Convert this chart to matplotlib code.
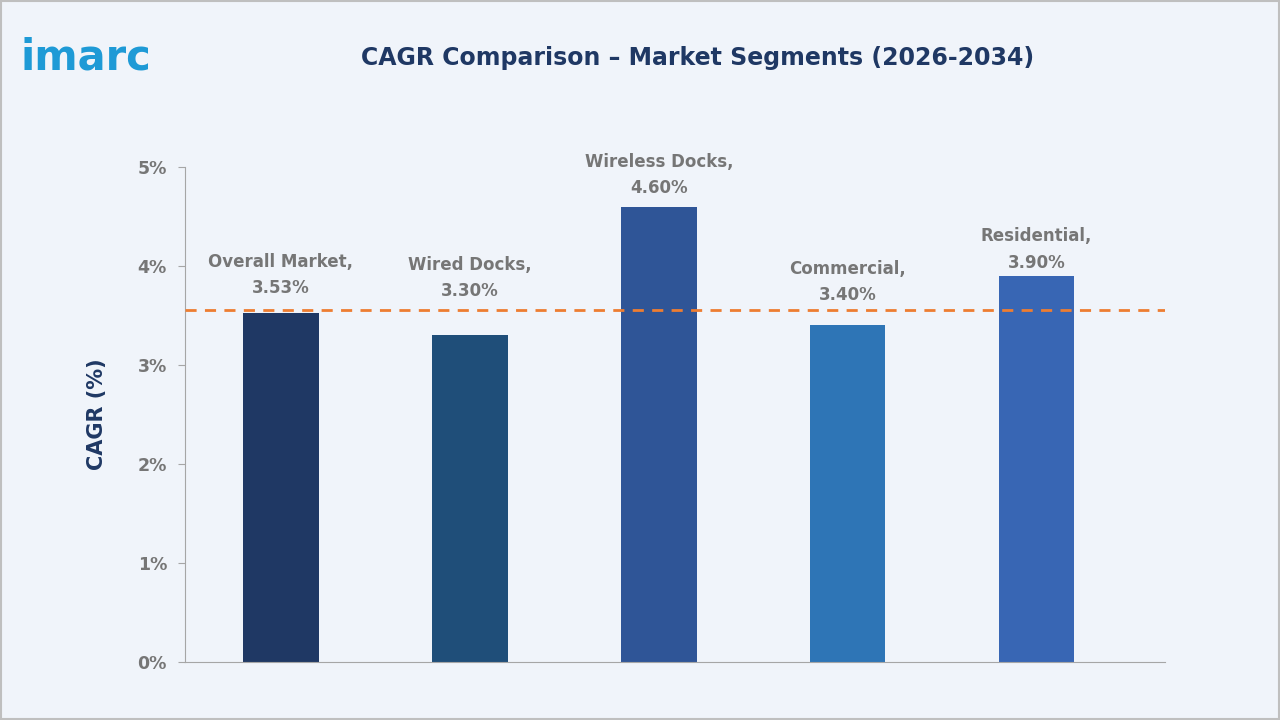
import matplotlib
matplotlib.use("Agg")
import matplotlib.pyplot as plt
from matplotlib.patches import Rectangle

categories = ["Overall Market", "Wired Docks", "Wireless Docks", "Commercial", "Residential"]
values = [3.53, 3.30, 4.60, 3.40, 3.90]
colors = ["#1F3864", "#1F4E79", "#2F5597", "#2E75B6", "#3866B4"]
ref_line = 3.56
yticks = [0, 1, 2, 3, 4, 5]
# label offset (data units) above each bar, for placement of annotation
label_offsets = [0.44, 0.64, 0.38, 0.50, 0.33]

bg = "#F0F4FA"
fig = plt.figure(figsize=(12.8, 7.2), dpi=100, facecolor=bg)
fig.patches.append(Rectangle((0.001, 0.001), 0.998, 0.997, transform=fig.transFigure,
                             fill=False, edgecolor="#BFBFBF", lw=1.5))
ax = fig.add_axes([185/1280, 1-662/720, 980/1280, 495/720], facecolor=bg)
x = range(len(categories))
ax.bar(x, values, width=0.4, color=colors, zorder=2)
ax.axhline(ref_line, color="#ED7D31", lw=2, ls=(0, (4, 3)), zorder=3)
for i, (c, v) in enumerate(zip(categories, values)):
    ax.text(i, v + label_offsets[i], f"{c},\n{v:.2f}%", ha="center", va="center_baseline",
            fontsize=12, fontweight="bold", color="#767676", linespacing=1.6, zorder=4)
ax.set_xlim(-0.508, 4.68)
ax.set_ylim(0, 5)
ax.set_yticks(yticks)
ax.set_yticklabels([f"{t}%" for t in yticks], fontsize=12.5, color="#767676", fontweight="bold")
ax.set_xticks([])
for s in ["top", "right"]:
    ax.spines[s].set_visible(False)
for s in ["left", "bottom"]:
    ax.spines[s].set_color("#A6A6A6")
ax.tick_params(axis="y", length=5, color="#A6A6A6", pad=8)
ax.set_ylabel("CAGR (%)", fontsize=15, fontweight="bold", color="#1F3864", labelpad=22)

fig.text(0.545, 1-58/720, "CAGR Comparison – Market Segments (2026-2034)", ha="center", va="center",
         fontsize=17, fontweight="bold", color="#1F3864")
fig.text(20/1280, 1-58/720, "imarc", ha="left", va="center", fontsize=30,
         fontweight="bold", color="#1E9AD6")
fig.savefig("out.png", dpi=100, facecolor=bg)
